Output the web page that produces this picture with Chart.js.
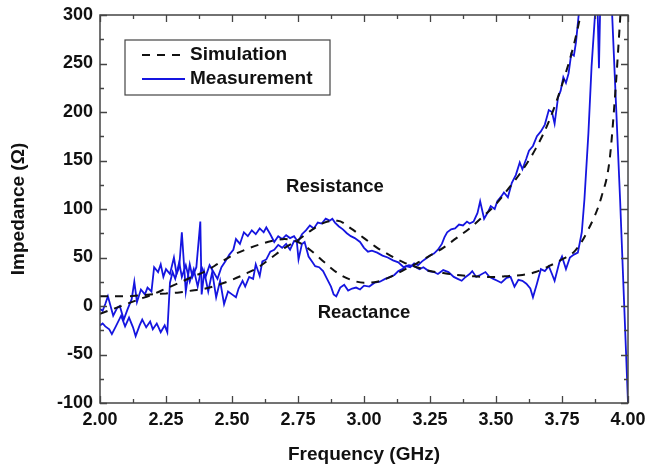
<!DOCTYPE html>
<html lang="en">
<head>
<meta charset="UTF-8">
<title>Impedance vs Frequency</title>
<script src="https://cdn.jsdelivr.net/npm/chart.js"></script>
<style>
  body { margin: 0; padding: 0; background: #fff; }
  #wrap { width: 646px; height: 470px; }
</style>
</head>
<body>
<div id="wrap"><canvas id="impChart" width="646" height="470"></canvas></div>
<script>
// Simulation (dashed black)
const simXFreq = [2.00, 2.05, 2.10, 2.15, 2.20, 2.25, 2.30, 2.35, 2.40, 2.45, 2.50, 2.55, 2.60, 2.65, 2.70, 2.75, 2.80, 2.85, 2.90, 2.95,
  3.00, 3.05, 3.10, 3.15, 3.20, 3.25, 3.30, 3.35, 3.40, 3.45, 3.50, 3.55, 3.60, 3.65, 3.70, 3.75, 3.80, 3.85];
const simXVals = [-8, -3, 2, 7, 12, 18, 24, 30, 36, 44, 52, 58, 63, 67, 69, 66, 57, 45, 34, 27,
  24, 25, 30, 37, 44, 52, 60, 70, 80, 92, 105, 122, 140, 162, 190, 228, 275, 340];

const simRFreq = [2.00, 2.05, 2.10, 2.15, 2.20, 2.25, 2.30, 2.35, 2.40, 2.45, 2.50, 2.55, 2.60, 2.65, 2.70, 2.75, 2.80, 2.85, 2.90, 2.95,
  3.00, 3.05, 3.10, 3.15, 3.20, 3.25, 3.30, 3.35, 3.40, 3.45, 3.50, 3.55, 3.60, 3.65, 3.70, 3.75, 3.80, 3.85, 3.90, 3.93, 3.95, 3.97, 3.98];
const simRVals = [10, 10, 10, 11, 12, 13, 14, 16, 18, 22, 27, 33, 40, 50, 60, 68, 78, 86, 88, 80,
  70, 60, 52, 45, 40, 36, 34, 32, 31, 30, 30, 31, 32, 35, 41, 48, 57, 79, 113, 150, 213, 295, 340];

// Measurement (blue) - reactance
const measXFreq = [2.000, 2.010, 2.020, 2.035, 2.045, 2.060, 2.080, 2.095, 2.110, 2.125, 2.135, 2.150, 2.160, 2.175, 2.190, 2.200, 2.215, 2.230, 2.245, 2.255,
  2.265, 2.275, 2.285, 2.300, 2.310, 2.325, 2.340, 2.355, 2.370, 2.385, 2.400, 2.415, 2.430, 2.445, 2.460, 2.475, 2.490, 2.505, 2.515, 2.530,
  2.545, 2.560, 2.575, 2.590, 2.605, 2.620, 2.630, 2.645, 2.660, 2.675, 2.690, 2.705, 2.720, 2.735, 2.745, 2.752, 2.765, 2.775, 2.790, 2.805,
  2.815, 2.830, 2.845, 2.860, 2.875, 2.885, 2.895, 2.910, 2.925, 2.940, 2.955, 2.970, 2.985, 3.000, 3.020, 3.040, 3.060, 3.080, 3.100, 3.115,
  3.130, 3.145, 3.160, 3.175, 3.190, 3.205, 3.220, 3.235, 3.250, 3.265, 3.280, 3.295, 3.305, 3.315, 3.330, 3.345, 3.360, 3.375, 3.390, 3.400,
  3.415, 3.430, 3.440, 3.455, 3.470, 3.480, 3.495, 3.505, 3.520, 3.530, 3.545, 3.560, 3.575, 3.590, 3.600, 3.615, 3.625, 3.640, 3.655, 3.670,
  3.685, 3.700, 3.712, 3.722, 3.735, 3.745, 3.755, 3.765, 3.775, 3.785, 3.795, 3.803, 3.815, 3.830];
const measXVals = [-20, -18, -21, -24, -29, -21, -10, -21, -12, -22, -31, -20, -14, -22, -16, -24, -18, -27, -20, -27,
  24, 35, 28, 45, 30, 42, 25, 38, 20, 40, 30, 42, 35, 28, 40, 46, 53, 58, 69, 64,
  76, 72, 78, 74, 80, 76, 81, 74, 66, 72, 69, 73, 70, 72, 68, 48, 64, 66, 51, 45,
  41, 40, 36, 28, 20, 12, 10, 19, 22, 16, 18, 19, 17, 21, 20, 24, 25, 28, 30, 32,
  36, 38, 41, 40, 44, 42, 46, 49, 52, 54, 58, 64, 71, 76, 79, 80, 84, 83, 87, 85,
  87, 96, 108, 90, 97, 103, 100, 108, 113, 117, 112, 127, 135, 148, 141, 152, 160, 165, 175, 180,
  187, 202, 200, 188, 215, 222, 236, 230, 240, 260, 258, 272, 305, 340];

// Measurement (blue) - resistance
const measRFreq = [2.000, 2.010, 2.020, 2.030, 2.040, 2.050, 2.065, 2.075, 2.090, 2.105, 2.120, 2.130, 2.140, 2.155, 2.170, 2.180, 2.195, 2.205, 2.220, 2.230,
  2.240, 2.250, 2.265, 2.280, 2.290, 2.300, 2.310, 2.325, 2.340, 2.350, 2.365, 2.380, 2.385, 2.395, 2.410, 2.425, 2.440, 2.455, 2.470, 2.485,
  2.500, 2.515, 2.525, 2.540, 2.550, 2.565, 2.580, 2.590, 2.605, 2.615, 2.630, 2.645, 2.660, 2.675, 2.690, 2.705, 2.720, 2.735, 2.750, 2.765,
  2.780, 2.795, 2.810, 2.825, 2.840, 2.855, 2.870, 2.880, 2.890, 2.905, 2.920, 2.935, 2.950, 2.965, 2.985, 3.000, 3.015, 3.030, 3.050, 3.070,
  3.090, 3.110, 3.130, 3.150, 3.170, 3.190, 3.210, 3.225, 3.245, 3.265, 3.280, 3.300, 3.320, 3.340, 3.355, 3.370, 3.385, 3.400, 3.410, 3.425,
  3.440, 3.460, 3.475, 3.490, 3.505, 3.520, 3.540, 3.555, 3.570, 3.585, 3.600, 3.615, 3.630, 3.640, 3.655, 3.670, 3.685, 3.700, 3.712, 3.722,
  3.740, 3.750, 3.765, 3.780, 3.795, 3.810, 3.825, 3.835, 3.850, 3.862, 3.875, 3.882, 3.890, 3.897, 3.915, 3.940, 3.955, 3.970, 3.985, 4.000];
const measRVals = [-3, -5, 2, 10, 0, -10, -2, 0, -14, -3, 7, 25, 4, 17, 12, 19, 15, 40, 35, 43,
  30, 38, 33, 50, 33, 40, 76, 15, 43, 30, 40, 87, 12, 35, 15, 35, 9, 26, 2, 15,
  12, 9, 18, 26, 20, 30, 28, 43, 31, 46, 48, 56, 58, 63, 60, 64, 58, 67, 66, 74,
  78, 83, 80, 86, 85, 90, 88, 90, 86, 82, 79, 75, 72, 70, 66, 60, 56, 57, 55, 52,
  50, 47, 45, 40, 42, 41, 38, 40, 36, 35, 33, 37, 35, 30, 28, 26, 30, 33, 36, 30,
  32, 35, 30, 28, 26, 24, 29, 30, 20, 27, 26, 23, 18, 9, 23, 38, 36, 41, 33, 26,
  45, 51, 38, 50, 53, 55, 76, 110, 178, 247, 300, 340, 245, 340, 420, 300, 205, 110, 5, -100];

const xTickStep = 0.25;
const yTickStep = 50;

function toPoints(xs, ys) {
  return xs.map((x, i) => ({ x: x, y: ys[i] }));
}

const FONT = '"Liberation Sans", Arial, sans-serif';
const BLUE = '#1515e0';

// frame, inward ticks, legend box and curve labels
const decorations = {
  id: 'decorations',
  afterDatasetsDraw(chart) {
    const ctx = chart.ctx;
    const a = chart.chartArea;
    const xs = chart.scales.x, ys = chart.scales.y;
    ctx.save();
    ctx.strokeStyle = '#444';
    ctx.lineWidth = 1.5;
    ctx.strokeRect(a.left, a.top, a.right - a.left, a.bottom - a.top);

    ctx.lineWidth = 1.3;
    ctx.beginPath();
    for (let v = xs.min; v <= xs.max + 1e-9; v += xTickStep / 2) {
      const px = Math.round(xs.getPixelForValue(v)) + 0.5;
      const major = Math.abs(v / xTickStep - Math.round(v / xTickStep)) < 1e-6;
      const len = major ? 7 : 4;
      ctx.moveTo(px, a.bottom); ctx.lineTo(px, a.bottom - len);
      ctx.moveTo(px, a.top); ctx.lineTo(px, a.top + len);
    }
    for (let v = ys.min; v <= ys.max + 1e-9; v += yTickStep / 2) {
      const py = Math.round(ys.getPixelForValue(v)) + 0.5;
      const major = Math.abs(v / yTickStep - Math.round(v / yTickStep)) < 1e-6;
      const len = major ? 7 : 4;
      ctx.moveTo(a.left, py); ctx.lineTo(a.left + len, py);
      ctx.moveTo(a.right, py); ctx.lineTo(a.right - len, py);
    }
    ctx.stroke();

    // legend
    const bx = a.left + 25, by = a.top + 25, bw = 205, bh = 55;
    ctx.fillStyle = '#fff';
    ctx.fillRect(bx, by, bw, bh);
    ctx.strokeStyle = '#444';
    ctx.lineWidth = 1.2;
    ctx.strokeRect(bx, by, bw, bh);
    const items = [chart.data.datasets[0], chart.data.datasets[2]];
    items.forEach((ds, i) => {
      const ly = by + 15 + i * 24;
      ctx.beginPath();
      ctx.strokeStyle = ds.borderColor;
      ctx.lineWidth = 2;
      ctx.setLineDash(ds.borderDash || []);
      ctx.moveTo(bx + 17, ly); ctx.lineTo(bx + 60, ly);
      ctx.stroke();
      ctx.setLineDash([]);
      ctx.fillStyle = '#111';
      ctx.font = 'bold 19px ' + FONT;
      ctx.textAlign = 'left';
      ctx.textBaseline = 'middle';
      ctx.fillText(ds.label, bx + 65, ly);
    });

    // curve labels
    ctx.font = 'bold 18.5px ' + FONT;
    ctx.textAlign = 'center';
    ctx.textBaseline = 'middle';
    ctx.fillStyle = '#111';
    ctx.fillText('Resistance', xs.getPixelForValue(2.89), ys.getPixelForValue(123));
    ctx.fillText('Reactance', xs.getPixelForValue(3.00), ys.getPixelForValue(-7));
    ctx.restore();
  }
};

new Chart(document.getElementById('impChart'), {
  type: 'line',
  data: {
    datasets: [
      { label: 'Simulation', data: toPoints(simXFreq, simXVals), borderColor: '#111', borderDash: [8, 7], borderWidth: 2, cubicInterpolationMode: 'monotone' },
      { label: 'Simulation', data: toPoints(simRFreq, simRVals), borderColor: '#111', borderDash: [8, 7], borderWidth: 2, cubicInterpolationMode: 'monotone' },
      { label: 'Measurement', data: toPoints(measXFreq, measXVals), borderColor: BLUE, borderWidth: 1.8, tension: 0 },
      { label: 'Measurement', data: toPoints(measRFreq, measRVals), borderColor: BLUE, borderWidth: 1.8, tension: 0 }
    ]
  },
  options: {
    responsive: false,
    animation: false,
    layout: { padding: { left: 4, right: 18, top: 15, bottom: 4 } },
    elements: { point: { radius: 0 } },
    plugins: { legend: { display: false }, tooltip: { enabled: false } },
    scales: {
      x: {
        type: 'linear', min: 2, max: 4,
        grid: { display: false, drawTicks: false },
        border: { display: false },
        ticks: { stepSize: xTickStep, padding: 6, maxRotation: 0, color: '#111',
          font: { family: FONT, size: 18, weight: 'bold' },
          callback: v => v.toFixed(2) },
        title: { display: true, text: 'Frequency (GHz)', color: '#111', padding: { top: 0, bottom: 0 },
          font: { family: FONT, size: 19, weight: 'bold' } },
        afterFit: s => { s.height = 470 - 403 - 4; s.paddingLeft = 0; s.paddingRight = 0; }
      },
      y: {
        min: -100, max: 300,
        grid: { display: false, drawTicks: false },
        border: { display: false },
        ticks: { stepSize: yTickStep, padding: 7, color: '#111',
          font: { family: FONT, size: 18, weight: 'bold' } },
        title: { display: true, text: 'Impedance (\u03A9)', color: '#111', padding: { top: 3, bottom: 0 },
          font: { family: FONT, size: 19, weight: 'bold' } },
        afterFit: s => { s.width = 100 - 4; s.paddingTop = 0; s.paddingBottom = 0; }
      }
    }
  },
  plugins: [decorations]
});
</script>
</body>
</html>
